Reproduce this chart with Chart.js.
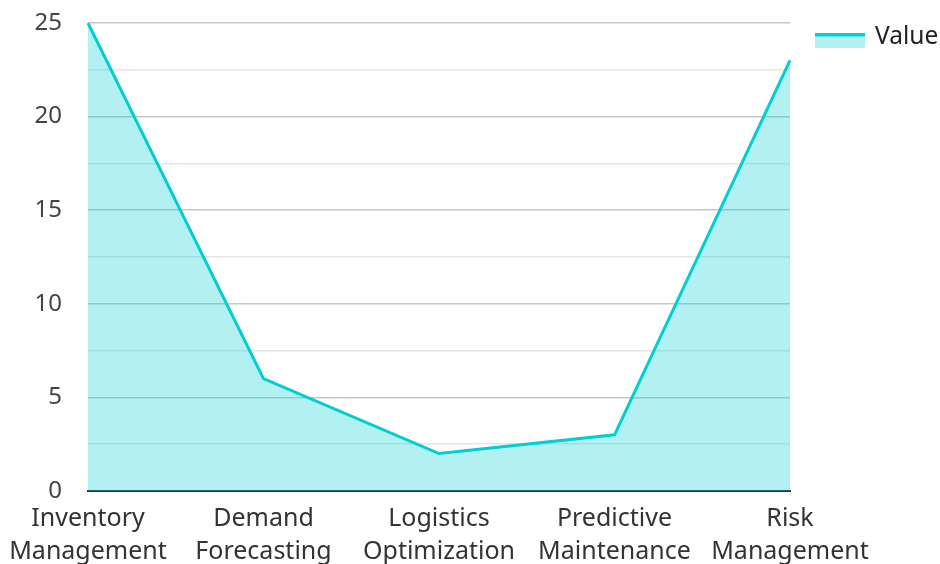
<!DOCTYPE html>
<html>
<head>
<meta charset="utf-8">
<script src="https://cdn.jsdelivr.net/npm/chart.js@4"></script>
<style>
  html, body { margin: 0; padding: 0; background: #fff; overflow: hidden; }
  #wrap { width: 940px; height: 580px; }
</style>
</head>
<body>
<div id="wrap"><canvas id="chart"></canvas></div>
<script>
// chart data
const categories = [
  ['Inventory', 'Management'],
  ['Demand', 'Forecasting'],
  ['Logistics', 'Optimization'],
  ['Predictive', 'Maintenance'],
  ['Risk', 'Management']
];
const values = [25, 6, 2, 3, 23];
const seriesName = 'Value';

const lineColor = '#00CED1';
const fillColor = 'rgba(0, 206, 209, 0.3)';
const fontFamily = "'Noto Sans', 'Open Sans', sans-serif";

// legend drawn by hand on the right of the plot
const sideLegend = {
  id: 'sideLegend',
  afterDraw(chart) {
    const ctx = chart.ctx;
    const x = chart.chartArea.right + 25;
    const y = 33;
    ctx.save();
    ctx.fillStyle = fillColor;
    ctx.fillRect(x, y, 50, 15);
    ctx.fillStyle = lineColor;
    ctx.fillRect(x, y, 50, 3.5);
    ctx.fillStyle = '#222';
    ctx.font = '24.5px ' + fontFamily;
    ctx.textBaseline = 'middle';
    ctx.textAlign = 'left';
    ctx.fillText(seriesName, x + 60, 37);
    ctx.restore();
  }
};

new Chart(document.getElementById('chart'), {
  type: 'line',
  data: {
    labels: categories,
    datasets: [{
      label: seriesName,
      data: values,
      borderColor: lineColor,
      backgroundColor: fillColor,
      borderWidth: 3,
      fill: 'origin',
      tension: 0,
      pointRadius: 0
    }]
  },
  options: {
    responsive: true,
    maintainAspectRatio: false,
    animation: false,
    layout: { padding: { left: 35, top: 23, right: 150, bottom: 0 } },
    plugins: {
      tooltip: { enabled: false },
      legend: { display: false }
    },
    scales: {
      x: {
        offset: false,
        grid: { display: false, drawTicks: false },
        border: { display: true, color: '#333', width: 2 },
        ticks: {
          color: '#333',
          maxRotation: 0,
          autoSkip: false,
          padding: 12,
          font: { family: fontFamily, size: 25, lineHeight: 1.3 }
        },
        afterFit(scale) {
          scale.paddingLeft = 0;
          scale.paddingRight = 0;
        }
      },
      y: {
        min: 0,
        max: 25,
        border: { display: false },
        grid: {
          drawTicks: false,
          color: ctx => (ctx.tick && ctx.tick.value % 5 === 0) ? '#c8c8c8' : '#e6e6e6',
          lineWidth: 1.5
        },
        ticks: {
          stepSize: 2.5,
          color: '#444',
          padding: 26,
          font: { family: fontFamily, size: 24 },
          callback: v => (v % 5 === 0 ? v : '')
        },
        afterFit(scale) {
          scale.width = 53;
          scale.paddingTop = 0;
          scale.paddingBottom = 0;
        }
      }
    }
  },
  plugins: [sideLegend]
});
</script>
</body>
</html>
